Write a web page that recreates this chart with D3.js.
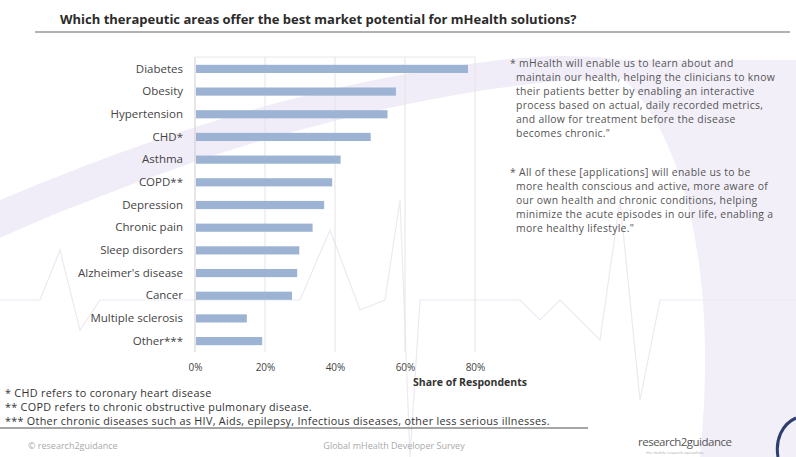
<!DOCTYPE html>
<html>
<head>
<meta charset="utf-8">
<script src="https://cdn.jsdelivr.net/npm/d3@7"></script>
<style>
  body { margin: 0; background: #fff; }
  text { font-family: "Open Sans", "DejaVu Sans", sans-serif; }
</style>
</head>
<body>
<script>
// chart data
var areas = ["Diabetes", "Obesity", "Hypertension", "CHD*", "Asthma", "COPD**", "Depression",
  "Chronic pain", "Sleep disorders", "Alzheimer's disease", "Cancer", "Multiple sclerosis", "Other***"];
var shares = [0.78, 0.574, 0.55, 0.502, 0.416, 0.392, 0.369, 0.336, 0.298, 0.292, 0.277, 0.148, 0.192];
var tickValues = [0, 0.2, 0.4, 0.6, 0.8];

var quote1 = ["* mHealth will enable us to learn about and",
  "maintain our health, helping the clinicians to know",
  "their patients better by enabling an interactive",
  "process based on actual, daily recorded metrics,",
  "and allow for treatment before the disease",
  "becomes chronic.\""];
var quote2 = ["* All of these [applications] will enable us to be",
  "more health conscious and active, more aware of",
  "our own health and chronic conditions, helping",
  "minimize the acute episodes in our life, enabling a",
  "more healthy lifestyle.\""];
var footnotes = ["* CHD refers to coronary heart disease",
  "** COPD refers to chronic obstructive pulmonary disease.",
  "*** Other chronic diseases such as  HIV, Aids, epilepsy, Infectious diseases, other less serious illnesses."];

var svgWidth = 796;
var svgHeight = 457;

var svg = d3.select("body")
  .append("svg")
  .attr("width", svgWidth)
  .attr("height", svgHeight);

// background decoration (lavender swoosh + faint ecg line)
var bg = svg.append("g");
bg.append("path")
  .attr("d", "M0,200 C120,150 300,80 520,58 C560,54 600,56 640,62 L640,80 C560,72 380,100 200,160 C120,188 50,215 0,238 Z")
  .attr("fill", "#f1edf8");
bg.append("path")
  .attr("d", "M600,60 C680,110 720,260 700,457 L796,457 L796,60 Z")
  .attr("fill", "#f2eff9");
bg.append("path")
  .attr("d", "M0,300 L40,300 L60,250 L80,330 L100,300 L300,300 L330,230 L360,310 L385,300 L400,200 L410,457 M410,457 L420,300 L520,300 L540,320 L560,300 L600,340 L620,200 L640,400 L660,300 L796,300")
  .attr("fill", "none")
  .attr("stroke", "#ece9f1")
  .attr("stroke-width", 1.2);

// title
svg.append("text")
  .attr("x", 60)
  .attr("y", 24)
  .attr("font-size", 13)
  .attr("font-weight", "bold")
  .attr("fill", "#2b2b2b")
  .text("Which therapeutic areas offer the best market potential for mHealth solutions?");
svg.append("line")
  .attr("x1", 35).attr("x2", 790)
  .attr("y1", 32).attr("y2", 32)
  .attr("stroke", "#999")
  .attr("stroke-width", 1.5);

// scales
var xScale = d3.scaleLinear()
  .domain([0, 0.8])
  .range([195, 475]);
var yScale = d3.scaleBand()
  .domain(areas)
  .range([58, 352])
  .paddingInner(0.64)
  .paddingOuter(0.3);

// gridlines
svg.append("g")
  .selectAll("line")
  .data(tickValues)
  .enter()
  .append("line")
  .attr("x1", d => xScale(d))
  .attr("x2", d => xScale(d))
  .attr("y1", 57)
  .attr("y2", 352)
  .attr("stroke", d => d === 0 ? "#cfcfcf" : "#e4e4e4");
svg.append("line")
  .attr("x1", xScale(0)).attr("x2", xScale(0.8))
  .attr("y1", 57).attr("y2", 57)
  .attr("stroke", "#e8e8e8");

// bars
svg.selectAll("rect.bar")
  .data(areas)
  .enter()
  .append("rect")
  .attr("class", "bar")
  .attr("x", xScale(0) + 1)
  .attr("y", d => yScale(d))
  .attr("width", (d, i) => xScale(shares[i]) - xScale(0) - 1)
  .attr("height", yScale.bandwidth())
  .attr("fill", "#9db3d3");

// y axis labels
var yAxis = d3.axisLeft(yScale).tickSize(0).tickPadding(12);
var yG = svg.append("g")
  .attr("transform", `translate(${xScale(0)}, 0)`)
  .call(yAxis);
yG.select(".domain").remove();
yG.selectAll("text")
  .attr("font-family", "'Open Sans', sans-serif")
  .attr("font-size", 11.5)
  .attr("fill", "#444");

// x axis
var xAxis = d3.axisBottom(xScale)
  .tickValues(tickValues)
  .tickFormat(d3.format(".0%"))
  .tickSize(0)
  .tickPadding(12);
var xG = svg.append("g")
  .attr("transform", "translate(0, 352)")
  .call(xAxis);
xG.select(".domain").remove();
xG.selectAll("text")
  .attr("font-family", "'Open Sans', sans-serif")
  .attr("font-size", 10)
  .attr("fill", "#444");

svg.append("text")
  .attr("x", 470)
  .attr("y", 386)
  .attr("text-anchor", "middle")
  .attr("font-size", 10.5)
  .attr("font-weight", "bold")
  .attr("fill", "#333")
  .text("Share of Respondents");

// quotes
function drawLines(lines, x, y0, step) {
  svg.append("g")
    .selectAll("text")
    .data(lines)
    .enter()
    .append("text")
    .attr("x", (d, i) => i === 0 ? x : x + 6)
    .attr("y", (d, i) => y0 + i * step)
    .attr("font-size", 10.4)
    .attr("letter-spacing", 0.3)
    .attr("fill", "#555")
    .text(d => d);
}
drawLines(quote1, 510, 67, 14);
drawLines(quote2, 510, 176, 14);

// footnotes
svg.append("g")
  .selectAll("text")
  .data(footnotes)
  .enter()
  .append("text")
  .attr("x", 5)
  .attr("y", (d, i) => 397 + i * 14)
  .attr("font-size", 10.8)
  .attr("letter-spacing", 0.3)
  .attr("fill", "#333")
  .text(d => d);
svg.append("line")
  .attr("x1", 0).attr("x2", 588)
  .attr("y1", 428).attr("y2", 428)
  .attr("stroke", "#888")
  .attr("stroke-width", 1.5);

// footer
svg.append("text")
  .attr("x", 28).attr("y", 449)
  .attr("font-size", 9)
  .attr("fill", "#aaa")
  .text("\u00a9 research2guidance");
svg.append("text")
  .attr("x", 394).attr("y", 449)
  .attr("text-anchor", "middle")
  .attr("font-size", 9)
  .attr("fill", "#aaa")
  .text("Global mHealth Developer Survey");
svg.append("text")
  .attr("x", 638).attr("y", 446)
  .attr("font-size", 11.5)
  .attr("fill", "#555")
  .attr("letter-spacing", -0.5)
  .text("research2guidance");
svg.append("text")
  .attr("x", 646).attr("y", 454)
  .attr("font-size", 4)
  .attr("fill", "#aaa")
  .text("the mobile research specialists");

// corner arc
svg.append("path")
  .attr("d", "M796,418 C782,424 775,440 778,457")
  .attr("fill", "none")
  .attr("stroke", "#2d3f6b")
  .attr("stroke-width", 3);
</script>
</body>
</html>
